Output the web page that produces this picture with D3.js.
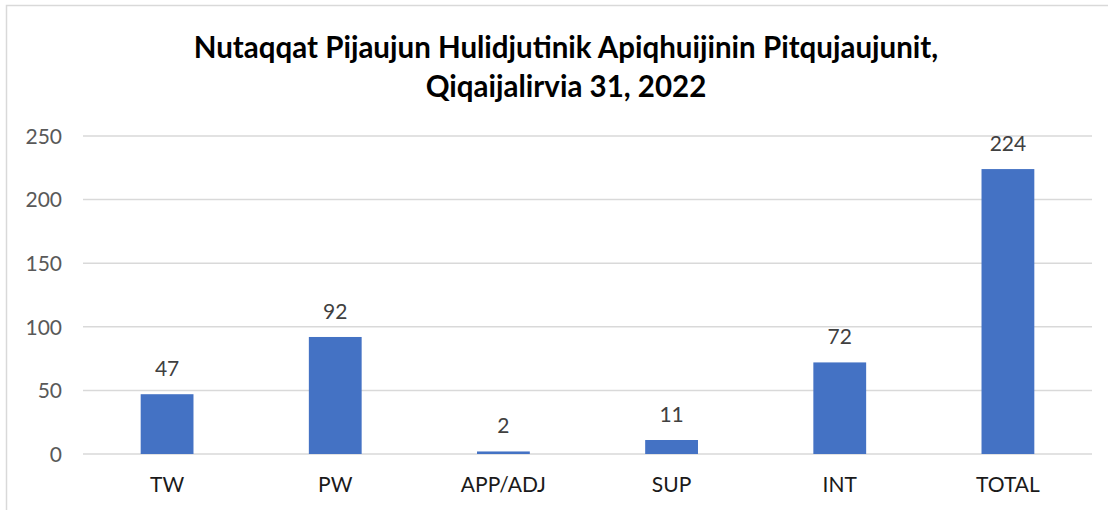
<!DOCTYPE html>
<html>
<head>
<meta charset="utf-8">
<script src="https://cdn.jsdelivr.net/npm/d3@7"></script>
<style>
  html, body { margin: 0; padding: 0; background: #fff; overflow: hidden; }
  svg { display: block; }
  svg text { font-family: Lato, "Open Sans", sans-serif; }
</style>
</head>
<body>
<div id="chart"></div>
<script>
const categories = ['TW', 'PW', 'APP/ADJ', 'SUP', 'INT', 'TOTAL'];
const values = [47, 92, 2, 11, 72, 224];
const yTicks = [0, 50, 100, 150, 200, 250];
const titleLines = ['Nutaqqat Pijaujun Hulidjutinik Apiqhuijinin Pitqujaujunit,', 'Qiqaijalirvia 31, 2022'];

const W = 1108, H = 510;
const margin = { t: 136, r: 16, b: 56, l: 83 };
const innerWidth = W - margin.l - margin.r;
const innerHeight = H - margin.t - margin.b;

const svg = d3.select('#chart')
  .append('svg')
  .attr('width', W)
  .attr('height', H);

// chart frame (right/bottom edges fall outside the picture)
svg.append('path')
  .attr('d', `M6.5,${H} V5.5 H${W}`)
  .attr('fill', 'none')
  .attr('stroke', '#d9d9d9')
  .attr('stroke-width', 1.5);

svg.append('g')
  .selectAll('text')
  .data(titleLines)
  .join('text')
  .attr('x', 566)
  .attr('y', (d, i) => 58 + i * 39)
  .attr('text-anchor', 'middle')
  .attr('font-size', 29.5)
  .attr('font-weight', 'bold')
  .attr('fill', '#000')
  .text(d => d);

const x = d3.scaleBand().range([0, innerWidth]).domain(categories).paddingInner(0.686).paddingOuter(0.343);
const y = d3.scaleLinear().range([innerHeight, 0]).domain([0, 250]);

const plot = svg.append('g')
  .attr('transform', `translate(${margin.l}, ${margin.t})`);

// gridlines
plot.append('g')
  .selectAll('line')
  .data(yTicks)
  .join('line')
  .attr('x1', 0).attr('x2', innerWidth)
  .attr('y1', d => y(d)).attr('y2', d => y(d))
  .attr('stroke', '#d9d9d9')
  .attr('stroke-width', 1.5);

const axisY = d3.axisLeft(y).tickValues(yTicks).tickSize(0).tickPadding(21);
plot.append('g')
  .call(axisY)
  .call(g => g.select('.domain').remove())
  .selectAll('text')
  .attr('font-size', 21)
  .attr('fill', '#595959')
  .attr('dy', '0.35em');

const axisX = d3.axisBottom(x).tickSize(0).tickPadding(23);
plot.append('g')
  .attr('transform', `translate(0, ${innerHeight})`)
  .call(axisX)
  .call(g => g.select('.domain').remove())
  .selectAll('text')
  .attr('font-size', 21)
  .attr('fill', '#1a1a1a');

const data = categories.map((c, i) => ({ cat: c, val: values[i] }));

plot.selectAll('.bar')
  .data(data)
  .join('rect')
  .attr('class', 'bar')
  .attr('x', d => x(d.cat))
  .attr('width', x.bandwidth())
  .attr('y', d => y(d.val))
  .attr('height', d => innerHeight - y(d.val))
  .attr('fill', '#4472c4');

plot.selectAll('.lbl')
  .data(data)
  .join('text')
  .attr('class', 'lbl')
  .attr('x', d => x(d.cat) + x.bandwidth() / 2)
  .attr('y', d => y(d.val) - 18)
  .attr('text-anchor', 'middle')
  .attr('font-size', 21)
  .attr('fill', '#404040')
  .text(d => d.val);
</script>
</body>
</html>
